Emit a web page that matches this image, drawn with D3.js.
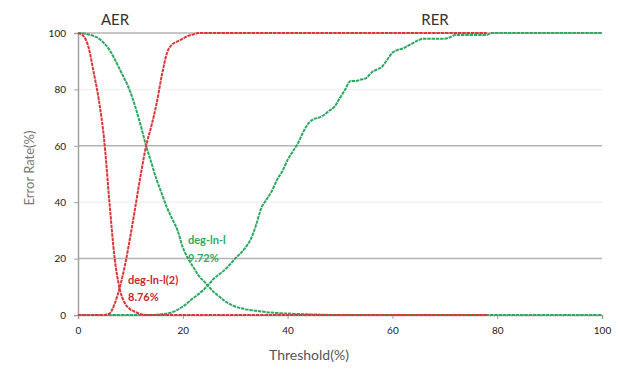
<!DOCTYPE html>
<html>
<head>
<meta charset="utf-8">
<script src="https://cdn.jsdelivr.net/npm/d3@7"></script>
<style>
  body { margin: 0; background: #fff; }
  text { font-family: Lato, "Open Sans", sans-serif; }
</style>
</head>
<body>
<script>
// values (threshold % -> error rate %)
const aerDownX = [0, 1, 2, 3, 4, 5, 6, 7, 8, 9, 10, 11, 12, 13, 20, 40, 60, 78];
const aerDownY = [100, 99, 95, 86, 76, 62, 40, 20, 9, 4, 2, 1, 0.3, 0, 0, 0, 0, 0];

const aerUpX = [0, 5, 6, 7, 8, 9, 10, 11, 12, 13, 14, 15, 16, 17, 18, 19, 20, 21, 22, 23, 40, 60, 78];
const aerUpY = [0, 0, 0.5, 4, 10, 18, 28, 39, 50, 60, 67, 75, 85, 93, 96, 97, 98, 99, 99.5, 100, 100, 100, 100];

const rerDownX = [0, 2, 4, 6, 8, 10, 12, 13, 14, 15, 16, 17, 18, 19, 20, 21, 22, 23, 24, 25, 26, 27, 28, 30, 32, 34, 36, 40, 45, 50, 100];
const rerDownY = [100, 99.5, 98, 94, 87, 79, 67, 60, 54, 48, 43, 38, 34, 30, 24, 20, 17, 14, 12, 10, 8, 6.5, 5, 3, 2, 1.5, 1, 0.5, 0.2, 0, 0];

const rerUpX = [0, 14, 16, 18, 20, 22, 24, 26, 28, 30, 32, 33, 34, 35, 36, 37, 38, 39, 40, 41, 42, 43, 44, 45, 46, 47, 48, 49, 50,
  51, 52, 53, 54, 55, 56, 57, 58, 59, 60, 61, 62, 63, 64, 65, 66, 68, 70, 71, 72, 78, 79, 100];
const rerUpY = [0, 0, 0.3, 1, 3, 6, 9, 13, 16, 20, 24, 27, 32, 38, 41, 44, 48, 51, 55, 58, 61, 65, 68, 69.5, 70, 71, 72.5, 74, 77,
  80, 83, 83, 83.5, 84, 86, 87, 88, 90.5, 93, 94, 94.5, 95.5, 96.5, 97.5, 98, 98, 98, 98.5, 99.3, 99.3, 100, 100];

const xTicks = [0, 20, 40, 60, 80, 100];
const yTicks = [0, 20, 40, 60, 80, 100];

const width = 624, height = 370;
const margin = { top: 33, right: 22, bottom: 55, left: 78 };

const x = d3.scaleLinear().domain([0, 100]).range([margin.left, width - margin.right]);
const y = d3.scaleLinear().domain([0, 100]).range([height - margin.bottom, margin.top]);

const svg = d3.select('body').append('svg')
    .attr('width', width)
    .attr('height', height);

// gridlines (the 40/80 ones are almost washed out in the original)
svg.append('g')
    .selectAll('line')
    .data(yTicks.filter(d => d > 0))
    .join('line')
    .attr('x1', x(0)).attr('x2', x(100))
    .attr('y1', d => y(d)).attr('y2', d => y(d))
    .attr('stroke', d => (d === 40 || d === 80) ? '#f2f2f2' : '#b4b4b4')
    .attr('stroke-width', 1.5);

const xAxis = svg.append('g')
    .attr('transform', `translate(0,${y(0)})`)
    .call(d3.axisBottom(x).tickValues(xTicks).tickSize(4).tickPadding(8));

const yAxis = svg.append('g')
    .attr('transform', `translate(${x(0)},0)`)
    .call(d3.axisLeft(y).tickValues(yTicks).tickSize(4).tickPadding(8));

[xAxis, yAxis].forEach(g => {
  g.select('.domain').attr('stroke', '#a0a0a0').attr('stroke-width', 1.5);
  g.selectAll('.tick line').attr('stroke', '#a0a0a0');
  g.selectAll('.tick text').attr('fill', '#222').style('font-size', '10px');
});

const line = d3.line()
    .x(d => x(d[0]))
    .y(d => y(d[1]))
    .curve(d3.curveMonotoneX);

const series = [
  { xs: rerDownX, ys: rerDownY, color: '#2ea862' },
  { xs: rerUpX, ys: rerUpY, color: '#2ea862' },
  { xs: aerDownX, ys: aerDownY, color: '#d8383c' },
  { xs: aerUpX, ys: aerUpY, color: '#d8383c' }
];

series.forEach(s => {
  svg.append('path')
      .datum(d3.zip(s.xs, s.ys))
      .attr('fill', 'none')
      .attr('stroke', s.color)
      .attr('stroke-width', 2)
      .attr('stroke-dasharray', '3.5 0.8')
      .attr('d', line);
});

// annotations
svg.append('text').attr('x', 115).attr('y', 25).attr('text-anchor', 'middle')
    .attr('fill', '#333').style('font-size', '15px').text('AER');
svg.append('text').attr('x', 435).attr('y', 25).attr('text-anchor', 'middle')
    .attr('fill', '#333').style('font-size', '15px').text('RER');

svg.append('text').attr('x', 188).attr('y', 244)
    .attr('fill', '#2ea862').style('font-size', '11px').style('font-weight', 'bold').text('deg-ln-l');
svg.append('text').attr('x', 188).attr('y', 262)
    .attr('fill', '#2ea862').style('font-size', '11px').style('font-weight', 'bold').text('9.72%');

svg.append('text').attr('x', 128).attr('y', 284)
    .attr('fill', '#c8282c').style('font-size', '11px').style('font-weight', 'bold').text('deg-ln-l(2)');
svg.append('text').attr('x', 128).attr('y', 301)
    .attr('fill', '#c8282c').style('font-size', '11px').style('font-weight', 'bold').text('8.76%');

// axis titles
svg.append('text').attr('x', 309).attr('y', 360).attr('text-anchor', 'middle')
    .attr('fill', '#555').style('font-size', '14px').text('Threshold(%)');
svg.append('text')
    .attr('transform', `translate(34,168) rotate(-90)`)
    .attr('text-anchor', 'middle')
    .attr('fill', '#777').style('font-size', '13px').text('Error Rate(%)');
</script>
</body>
</html>
